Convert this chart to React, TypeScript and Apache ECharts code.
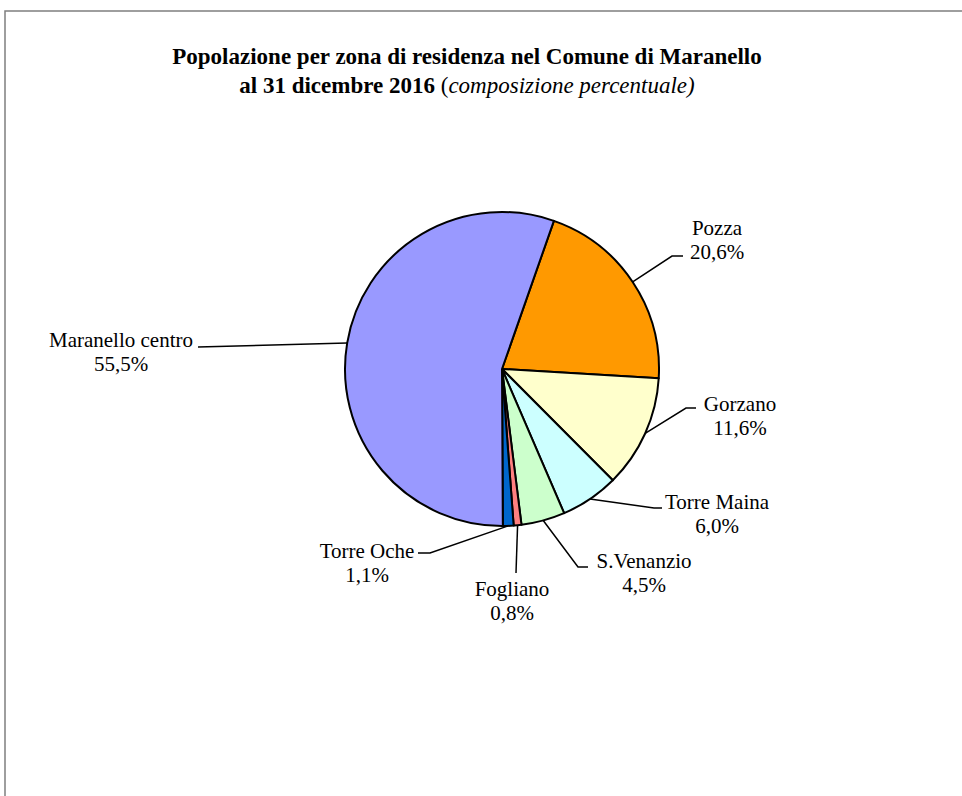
import React, { useEffect, useRef } from 'react';
import * as echarts from 'echarts';

// ---- data ----
const zones = ['Pozza', 'Gorzano', 'Torre Maina', 'S.Venanzio', 'Fogliano', 'Torre Oche', 'Maranello centro'];
const shares = [20.6, 11.6, 6.0, 4.5, 0.8, 1.1, 55.5];
const titleLine1 = 'Popolazione per zona di residenza nel Comune di Maranello';
const titleLine2Bold = 'al 31 dicembre 2016';
const titleLine2Italic = 'composizione percentuale)';

// ---- styles / layout ----
const colors = ['#FF9900', '#FFFFCC', '#CCFFFF', '#CCFFCC', '#FF8080', '#0066CC', '#9999FF'];
const CX = 502;
const CY = 369;
const R = 157;
const START_CW_FROM_TOP = 19.3; // degrees clockwise from 12 o'clock
const labelCenters = [
  [717, 240], [740, 416], [717, 514], [644, 573], [512, 601], [367, 563], [121, 352],
];
const lineBends = [
  [[672, 256], [683, 256]],
  [[686, 408], [696, 408]],
  [[654, 508], [662, 508]],
  [[578, 567], [588, 567]],
  [[516, 573], [516, 573]],
  [[430, 553], [418, 553]],
  [[198, 347], [198, 347]],
];

const SERIF = '"Liberation Serif", "Times New Roman", serif';

function edgePoint(i: number): number[] {
  const total = shares.reduce((a, b) => a + b, 0);
  let cum = 0;
  for (let k = 0; k < i; k++) cum += shares[k];
  const mid = START_CW_FROM_TOP + (360 * (cum + shares[i] / 2)) / total;
  const rad = (mid * Math.PI) / 180;
  return [CX + R * Math.sin(rad), CY - R * Math.cos(rad)];
}

export default function App() {
  const ref = useRef<HTMLDivElement>(null);
  useEffect(() => {
    if (!ref.current) return;
    const chart = echarts.init(ref.current, undefined, { renderer: 'svg' });
    chart.setOption({
      animation: false,
      backgroundColor: '#ffffff',
      title: {
        text: `{b|${titleLine1}}\n{b|${titleLine2Bold} }{n|(}{i|${titleLine2Italic}}`,
        left: 462,
        top: 37,
        textAlign: 'center',
        textStyle: {
          rich: {
            b: { fontFamily: SERIF, fontWeight: 'bold', fontSize: 23, color: '#000', lineHeight: 29 },
            n: { fontFamily: SERIF, fontWeight: 'normal', fontSize: 23, color: '#000', lineHeight: 29 },
            i: { fontFamily: SERIF, fontStyle: 'italic', fontWeight: 'normal', fontSize: 23, color: '#000', lineHeight: 29 },
          },
        },
      },
      graphic: [
        {
          type: 'polyline',
          shape: { points: [[5, 800], [5, 11], [962, 11]] },
          style: { stroke: '#7f7f7f', lineWidth: 1.5, fill: null },
          silent: true,
        },
      ],
      series: [
        {
          type: 'pie',
          center: [CX, CY],
          radius: R,
          startAngle: 90 - START_CW_FROM_TOP,
          clockwise: true,
          avoidLabelOverlap: false,
          emphasis: { disabled: true },
          itemStyle: { borderColor: '#000', borderWidth: 2 },
          label: {
            show: true,
            position: 'outside',
            fontFamily: SERIF,
            fontSize: 21,
            lineHeight: 24,
            color: '#000',
            align: 'center',
            formatter: (p: any) => `${p.name}\n${Number(p.value).toFixed(1).replace('.', ',')}%`,
          },
          labelLine: {
            show: true,
            lineStyle: { color: '#000', width: 1.5 },
          },
          labelLayout: (p: any) => {
            const i = p.dataIndex;
            return {
              x: labelCenters[i][0],
              y: labelCenters[i][1],
              align: 'center',
              verticalAlign: 'middle',
              labelLinePoints: [edgePoint(i), lineBends[i][0], lineBends[i][1]],
            };
          },
          data: zones.map((z, i) => ({ name: z, value: shares[i], itemStyle: { color: colors[i] } })),
        },
      ],
    });
    return () => chart.dispose();
  }, []);
  return <div ref={ref} style={{ position: 'fixed', left: 0, top: 0, width: 962, height: 796 }} />;
}
